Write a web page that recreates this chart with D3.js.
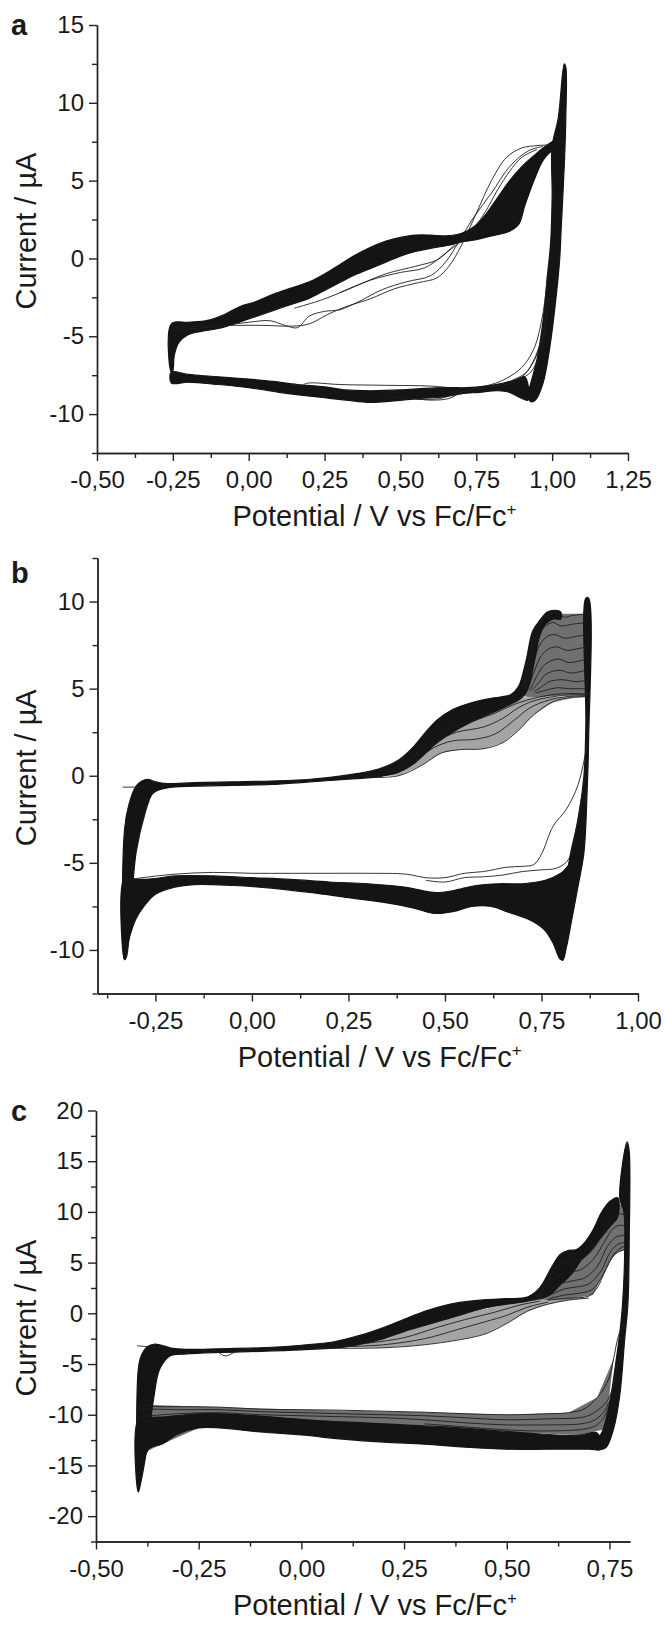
<!DOCTYPE html>
<html>
<head>
<meta charset="utf-8">
<script src="https://cdn.jsdelivr.net/npm/d3@7"></script>
<style>
  body { margin: 0; background: #fff; }
  text { font-family: "Liberation Sans", Arial, Helvetica, sans-serif; fill: #1a1a1a; }
</style>
</head>
<body>
<svg id="fig" width="665" height="1625"></svg>
<script>
// ---------- panel a ----------
const aXTicks = [-0.5, -0.25, 0, 0.25, 0.5, 0.75, 1.0, 1.25];
const aYTicks = [-10, -5, 0, 5, 10, 15];
const aBandAnodic = [[-0.255,-4.2],[-0.2,-4.1],[-0.14,-4.0],[-0.08,-3.6],[-0.03,-3.1],[0.02,-2.8],[0.08,-2.3],[0.14,-1.9],[0.2,-1.5],[0.25,-1.0],[0.3,-0.4],[0.35,0.2],[0.4,0.7],[0.45,1.1],[0.5,1.35],[0.55,1.5],[0.6,1.5],[0.65,1.45],[0.7,1.6],[0.74,2.0],[0.78,2.8],[0.82,3.9],[0.86,5.0],[0.9,5.9],[0.94,6.6],[0.97,7.1],[1.0,7.5],[1.02,7.7],
  [1.02,7.0],[1.0,6.9],[0.97,6.3],[0.94,5.0],[0.91,3.4],[0.89,2.2],[0.86,1.75],[0.8,1.45],[0.75,1.2],[0.7,1.05],[0.66,0.85],[0.6,0.65],[0.55,0.45],[0.5,0.15],[0.45,-0.25],[0.4,-0.65],[0.35,-1.05],[0.3,-1.55],[0.25,-2.05],[0.2,-2.55],[0.14,-2.95],[0.08,-3.35],[0.02,-3.75],[-0.04,-4.15],[-0.1,-4.5],[-0.16,-4.7],[-0.2,-4.9],[-0.23,-5.4],[-0.245,-6.2],[-0.25,-7.2],[-0.255,-7.3]];
const aBandCathodic = [[-0.255,-7.3],[-0.2,-7.45],[-0.1,-7.6],[0.0,-7.75],[0.08,-7.9],[0.16,-8.1],[0.25,-8.25],[0.32,-8.45],[0.4,-8.5],[0.5,-8.45],[0.58,-8.35],[0.65,-8.3],[0.72,-8.3],[0.78,-8.2],[0.84,-8.0],[0.88,-7.8],[0.91,-7.6],
  [0.92,-9.1],[0.89,-8.9],[0.86,-8.6],[0.82,-8.5],[0.76,-8.6],[0.7,-8.7],[0.64,-8.9],[0.56,-9.0],[0.48,-9.15],[0.4,-9.25],[0.32,-9.1],[0.25,-8.95],[0.18,-8.8],[0.1,-8.6],[0.0,-8.3],[-0.1,-8.1],[-0.2,-7.95],[-0.255,-8.0]];
const aBandReturn = [[1.0,7.2],[1.02,9.0],[1.04,12.5],[1.045,12.3],[1.045,9],[1.04,6],[1.03,2],[1.025,0],[1.01,-3],[0.99,-6],[0.97,-8],[0.945,-9.1],[0.93,-9.2],
  [0.92,-8.8],[0.93,-8],[0.95,-6.5],[0.97,-4],[0.985,-1],[0.995,1],[1.0,4]];
const aCycle1 = [[-0.25,-4.4],[-0.15,-4.35],[-0.05,-4.3],[0.05,-4.3],[0.14,-4.35],[0.2,-4.2],[0.26,-3.6],[0.32,-3.1],[0.4,-2.6],[0.48,-1.95],[0.56,-1.55],[0.62,-1.25],[0.66,-0.5],[0.7,0.8],[0.75,2.9],[0.8,5.0],[0.85,6.5],[0.9,7.1],[0.95,7.25],[1.0,7.3]];
const aCycle2 = [[-0.25,-4.6],[-0.12,-4.4],[0.0,-4.1],[0.07,-4.0],[0.12,-4.3],[0.16,-4.45],[0.2,-3.7],[0.25,-3.4],[0.3,-3.3],[0.36,-2.8],[0.44,-2.0],[0.52,-1.5],[0.6,-1.1],[0.65,-0.2],[0.69,1.0],[0.74,2.6],[0.8,4.2],[0.86,5.9],[0.92,6.9],[0.97,7.2]];
const aCycle3 = [[0.15,-3.2],[0.25,-2.6],[0.35,-1.8],[0.45,-1.0],[0.55,-0.5],[0.62,-0.1],[0.66,0.5],[0.7,1.1]];
const aCycle4 = [[0.3,-2.2],[0.4,-1.4],[0.5,-0.9],[0.58,-0.6],[0.64,0.2],[0.68,0.9]];
const aCycle5 = [[0.7,1.2],[0.74,1.9],[0.78,3.0],[0.82,4.4],[0.86,5.6],[0.9,6.5],[0.95,7.0]];
const aBack1 = [[0.985,-1.0],[0.97,-3.5],[0.94,-5.8],[0.9,-7.0],[0.85,-7.7],[0.8,-8.1],[0.74,-8.35],[0.7,-8.6],[0.66,-9.0],[0.6,-9.1],[0.54,-9.0],[0.45,-8.9]];
const aBack2 = [[0.99,-2.5],[0.96,-5.5],[0.92,-7.2],[0.88,-7.9],[0.82,-8.2],[0.75,-8.4],[0.68,-8.7],[0.63,-9.0],[0.55,-9.05]];
const aBack3 = [[0.18,-8.1],[0.2,-8.0],[0.3,-8.1],[0.45,-8.15],[0.6,-8.2],[0.66,-8.3]];
const aBack4 = [[0.985,-3.0],[0.965,-5.2],[0.94,-6.6],[0.91,-7.4],[0.87,-7.8]];
const aBack5 = [[0.98,-4.2],[0.955,-6.3],[0.93,-7.3],[0.9,-7.7]];

// ---------- panel b ----------
const bXTicks = [-0.25, 0, 0.25, 0.5, 0.75, 1.0];
const bYTicks = [-10, -5, 0, 5, 10];
const bBandAnodic = [[-0.33,-3.1],[-0.318,-1.6],[-0.3,-0.6],[-0.285,-0.3],[-0.27,-0.2],[-0.25,-0.35],[-0.22,-0.45],[-0.15,-0.4],[-0.05,-0.35],[0.05,-0.3],[0.15,-0.2],[0.25,0.05],[0.33,0.4],[0.38,0.9],[0.42,1.7],[0.45,2.5],[0.48,3.2],[0.52,3.8],[0.57,4.2],[0.62,4.45],[0.67,4.65],[0.69,5.1],[0.71,6.6],[0.727,8.3],[0.745,8.9],[0.765,9.4],[0.785,9.5],[0.8,9.4],
  [0.8,9.0],[0.78,9.0],[0.76,8.7],[0.745,8.0],[0.73,6.4],[0.715,5.0],[0.70,4.5],[0.67,4.1],[0.62,3.6],[0.57,3.1],[0.52,2.5],[0.48,1.9],[0.45,1.3],[0.42,0.7],[0.38,0.2],[0.33,-0.05],[0.25,-0.2],[0.15,-0.35],[0.05,-0.5],[-0.05,-0.55],[-0.15,-0.6],[-0.22,-0.7],[-0.25,-0.9],[-0.26,-1.1],[-0.275,-2.0],[-0.3,-4.4],[-0.325,-10.4],[-0.33,-10.55]];
const bBandCathodic = [[-0.33,-5.9],[-0.3,-5.95],[-0.25,-5.9],[-0.2,-5.75],[-0.1,-5.75],[0.0,-5.85],[0.1,-5.95],[0.2,-6.1],[0.3,-6.2],[0.4,-6.4],[0.47,-6.7],[0.52,-6.6],[0.58,-6.3],[0.64,-6.2],[0.7,-6.2],[0.76,-6.0],[0.8,-5.6],[0.83,-5.0],
  [0.8,-10.55],[0.78,-9.6],[0.76,-8.9],[0.73,-8.4],[0.7,-8.1],[0.66,-7.8],[0.62,-7.5],[0.57,-7.5],[0.52,-7.8],[0.47,-7.9],[0.42,-7.6],[0.35,-7.3],[0.25,-7.0],[0.15,-6.7],[0.05,-6.45],[-0.05,-6.3],[-0.15,-6.25],[-0.2,-6.4],[-0.25,-6.8],[-0.28,-7.5],[-0.3,-8.2],[-0.32,-9.5],[-0.33,-10.55]];
const bBandReturn = [[0.865,10.2],[0.872,10.2],[0.872,2],[0.868,-1],[0.86,-4.4],[0.845,-6.3],[0.828,-8.3],[0.815,-9.8],[0.805,-10.6],[0.795,-10.3],[0.8,-8.5],[0.81,-6.5],[0.825,-4.5],[0.845,-2.5],[0.86,0],[0.865,3]];
const bShadeFan = [[0.69,4.6],[0.72,6.5],[0.74,8.6],[0.77,9.4],[0.8,9.3],[0.87,9.3],[0.87,4.6],[0.8,4.6],[0.75,4.5],[0.72,4.5]];
const bShadeRise = [[0.33,0.0],[0.38,0.2],[0.42,0.7],[0.45,1.3],[0.48,1.9],[0.52,2.5],[0.57,3.1],[0.62,3.6],[0.67,4.1],[0.70,4.5],[0.75,4.5],[0.87,4.6],[0.87,4.5],[0.83,4.45],[0.78,4.2],[0.73,3.5],[0.69,2.6],[0.65,1.9],[0.6,1.55],[0.54,1.5],[0.49,1.3],[0.44,0.6],[0.38,0.0]];
const bFan1 = [[0.7,5.0],[0.72,7.0],[0.735,8.5],[0.75,9.0],[0.77,9.3],[0.79,9.35],[0.81,9.1],[0.83,9.2],[0.87,9.3]];
const bFan2 = [[0.705,5.0],[0.725,6.8],[0.74,8.0],[0.76,8.6],[0.78,8.8],[0.8,8.6],[0.83,8.7],[0.87,8.8]];
const bFan3 = [[0.71,5.0],[0.73,6.5],[0.745,7.5],[0.765,8.0],[0.785,8.1],[0.81,7.9],[0.84,8.0],[0.87,8.1]];
const bFan4 = [[0.715,5.0],[0.735,6.2],[0.75,6.9],[0.77,7.3],[0.79,7.4],[0.815,7.2],[0.845,7.3],[0.87,7.4]];
const bFan5 = [[0.72,4.9],[0.74,5.8],[0.755,6.3],[0.775,6.6],[0.795,6.7],[0.82,6.5],[0.85,6.6],[0.87,6.7]];
const bFan6 = [[0.725,4.9],[0.745,5.4],[0.76,5.8],[0.78,6.0],[0.8,6.05],[0.825,5.9],[0.855,6.0],[0.87,6.1]];
const bFan7 = [[0.73,4.8],[0.75,5.1],[0.77,5.4],[0.79,5.5],[0.81,5.5],[0.84,5.4],[0.87,5.5]];
const bFan8 = [[0.735,4.75],[0.76,4.9],[0.79,5.05],[0.82,5.0],[0.87,5.0]];
const bRise1 = [[0.3,-0.1],[0.38,0.0],[0.44,0.6],[0.49,1.3],[0.54,1.5],[0.6,1.55],[0.65,1.9],[0.69,2.6],[0.73,3.5],[0.78,4.25],[0.83,4.5],[0.87,4.55]];
const bRise2 = [[0.35,0.1],[0.42,0.8],[0.47,1.6],[0.52,2.0],[0.58,2.1],[0.63,2.4],[0.68,3.2],[0.72,3.9],[0.77,4.35],[0.82,4.55],[0.87,4.6]];
const bRise3 = [[0.36,0.3],[0.43,1.2],[0.48,2.0],[0.53,2.5],[0.6,2.8],[0.65,3.3],[0.69,3.9],[0.73,4.3],[0.8,4.6],[0.87,4.65]];
const bRise4 = [[0.4,0.8],[0.46,1.9],[0.52,2.8],[0.58,3.2],[0.63,3.6],[0.68,4.1],[0.74,4.5],[0.8,4.7],[0.87,4.7]];
const bBack1 = [[0.87,2.0],[0.845,-0.5],[0.815,-1.9],[0.78,-2.9],[0.75,-4.5],[0.73,-5.1],[0.7,-5.2],[0.66,-5.25],[0.6,-5.5],[0.55,-5.6],[0.5,-5.85],[0.45,-5.85],[0.4,-5.65],[0.3,-5.6],[0.2,-5.6],[0.1,-5.6],[0.0,-5.6],[-0.1,-5.55],[-0.2,-5.65],[-0.3,-5.9],[-0.33,-6.0]];
const bBack2 = [[0.855,-1],[0.84,-3.0],[0.82,-4.8],[0.79,-5.3],[0.75,-5.4],[0.7,-5.5],[0.65,-5.7],[0.6,-5.8],[0.55,-5.85],[0.5,-6.1],[0.45,-6.0]];
const bStart = [[-0.335,-0.65],[-0.3,-0.65],[-0.27,-0.6]];

// ---------- panel c ----------
const cXTicks = [-0.5, -0.25, 0, 0.25, 0.5, 0.75];
const cYTicks = [-20, -15, -10, -5, 0, 5, 10, 15, 20];
const cBandAnodic = [[-0.397,-5.5],[-0.39,-4.2],[-0.375,-3.3],[-0.36,-3.05],[-0.34,-3.15],[-0.32,-3.4],[-0.28,-3.55],[-0.2,-3.5],[-0.1,-3.4],[0.0,-3.15],[0.08,-2.8],[0.14,-2.2],[0.2,-1.4],[0.25,-0.6],[0.3,0.2],[0.35,0.8],[0.4,1.15],[0.45,1.35],[0.5,1.45],[0.55,1.6],[0.58,2.5],[0.61,4.6],[0.63,5.8],[0.65,6.2],[0.67,6.3],[0.69,7.0],[0.71,8.2],[0.73,9.9],[0.75,11.0],[0.77,11.4],
  [0.77,9.5],[0.75,8.5],[0.72,7.0],[0.70,6.0],[0.68,5.2],[0.66,4.0],[0.63,2.8],[0.6,1.7],[0.55,1.2],[0.5,0.9],[0.45,0.55],[0.4,0.0],[0.35,-0.6],[0.3,-1.2],[0.25,-1.8],[0.2,-2.5],[0.15,-3.0],[0.1,-3.35],[0.0,-3.6],[-0.1,-3.75],[-0.2,-3.85],[-0.28,-4.0],[-0.32,-4.2],[-0.345,-5.5],[-0.36,-8.5],[-0.375,-13.0],[-0.39,-16.5],[-0.397,-17.6]];
const cBandCathodic = [[-0.397,-10.5],[-0.37,-10.3],[-0.33,-10.2],[-0.28,-10.0],[-0.22,-9.9],[-0.15,-10.0],[-0.05,-10.3],[0.05,-10.6],[0.15,-10.8],[0.25,-11.0],[0.35,-11.2],[0.45,-11.5],[0.55,-11.8],[0.62,-12.0],[0.68,-12.0],[0.72,-11.8],
  [0.73,-13.4],[0.7,-13.4],[0.6,-13.4],[0.5,-13.4],[0.4,-13.2],[0.3,-12.9],[0.2,-12.7],[0.1,-12.4],[0.0,-12.0],[-0.1,-11.7],[-0.2,-11.3],[-0.25,-11.3],[-0.3,-11.9],[-0.34,-12.9],[-0.37,-13.3],[-0.385,-14.7],[-0.397,-17.6]];
const cBandReturn = [[0.775,11.4],[0.793,16.9],[0.798,16.0],[0.798,7],[0.795,1],[0.787,-2.6],[0.775,-8.1],[0.76,-11.4],[0.742,-13.2],[0.725,-13.4],[0.72,-12.8],[0.735,-11.4],[0.752,-8.5],[0.765,-5],[0.775,-2],[0.782,1],[0.787,6],[0.785,10]];
const cShadeFan = [[0.57,1.5],[0.6,3.5],[0.62,5.2],[0.65,6.0],[0.68,6.3],[0.7,7.2],[0.73,9.5],[0.76,11.0],[0.79,10.5],[0.79,6.3],[0.77,6.0],[0.75,5.2],[0.73,3.5],[0.71,1.8],[0.65,1.4],[0.6,1.3]];
const cShadeRise = [[0.1,-3.35],[0.2,-2.5],[0.3,-1.2],[0.4,0.0],[0.5,0.9],[0.6,1.5],[0.7,1.5],[0.65,1.3],[0.6,0.9],[0.55,0.2],[0.5,-1.0],[0.45,-2.0],[0.4,-2.5],[0.3,-3.1],[0.2,-3.4]];
const cShadeBack = [[0.76,-4.5],[0.72,-8.3],[0.65,-9.8],[0.5,-10.0],[0.3,-9.75],[0.0,-9.5],[-0.2,-9.25],[-0.397,-9.0],[-0.397,-14.0],[-0.34,-12.9],[-0.25,-11.3],[-0.22,-9.9],[0.05,-10.6],[0.35,-11.2],[0.55,-11.8],[0.68,-12.0],[0.74,-11.4]];
const cFan1 = [[0.57,1.5],[0.6,3.0],[0.62,4.6],[0.65,5.0],[0.68,5.3],[0.71,6.3],[0.74,8.3],[0.76,9.5],[0.78,9.8],[0.79,9.6]];
const cFan2 = [[0.57,1.4],[0.6,2.5],[0.62,3.6],[0.65,4.0],[0.68,4.3],[0.71,5.3],[0.74,7.2],[0.76,8.4],[0.78,8.7],[0.79,8.5]];
const cFan3 = [[0.57,1.35],[0.6,2.1],[0.63,2.9],[0.66,3.2],[0.69,3.5],[0.72,4.6],[0.745,6.6],[0.765,7.5],[0.785,7.7]];
const cFan4 = [[0.58,1.35],[0.61,1.9],[0.64,2.4],[0.67,2.6],[0.7,2.9],[0.73,4.2],[0.75,5.9],[0.77,6.8],[0.79,7.0]];
const cFan5 = [[0.6,1.4],[0.64,1.8],[0.68,2.0],[0.71,2.4],[0.73,3.5],[0.755,5.5],[0.775,6.4],[0.79,6.6]];
const cFan6 = [[0.6,1.3],[0.65,1.5],[0.7,1.7],[0.72,2.5],[0.74,4.2],[0.765,5.9],[0.79,6.3]];
const cRise1 = [[0.0,-3.4],[0.1,-3.45],[0.2,-3.4],[0.3,-3.1],[0.4,-2.5],[0.45,-2.0],[0.5,-1.0],[0.55,0.2],[0.6,0.9],[0.65,1.3],[0.7,1.5]];
const cRise2 = [[0.1,-3.3],[0.2,-3.1],[0.3,-2.5],[0.38,-1.6],[0.45,-0.8],[0.5,-0.2],[0.55,0.6],[0.6,1.1]];
const cRise3 = [[0.15,-3.0],[0.25,-2.4],[0.33,-1.4],[0.4,-0.6],[0.47,0.1],[0.53,0.8],[0.58,1.2]];
const cBack1 = [[0.785,-1],[0.772,-2.2],[0.76,-4.5],[0.75,-6.25],[0.735,-7.5],[0.72,-8.3],[0.69,-9.4],[0.65,-9.8],[0.6,-9.9],[0.5,-10.0],[0.4,-9.9],[0.3,-9.75],[0.2,-9.65],[0.1,-9.55],[0.0,-9.5],[-0.1,-9.45],[-0.2,-9.25],[-0.3,-9.2],[-0.35,-9.2],[-0.397,-9.0]];
const cBack2 = [[0.775,-4],[0.76,-7],[0.745,-8.6],[0.72,-9.6],[0.69,-10.2],[0.6,-10.4],[0.5,-10.5],[0.4,-10.3],[0.3,-10.1],[0.2,-10.0],[0.1,-9.9],[0.0,-9.8],[-0.1,-9.7],[-0.2,-9.5],[-0.3,-9.5],[-0.397,-9.4]];
const cBack3 = [[0.765,-6],[0.75,-8.6],[0.735,-9.8],[0.71,-10.6],[0.68,-10.9],[0.6,-11.0],[0.5,-11.0],[0.4,-10.8],[0.3,-10.5],[0.2,-10.3],[0.1,-10.2],[0.0,-10.1],[-0.1,-10.0],[-0.2,-9.8],[-0.3,-9.9],[-0.397,-10.2]];
const cBack4 = [[0.755,-8],[0.74,-10],[0.72,-11.0],[0.69,-11.4],[0.6,-11.6],[0.5,-11.5],[0.4,-11.2],[0.3,-10.9]];
const cStart = [[-0.4,-3.2],[-0.37,-3.3],[-0.34,-3.4]];
const cDip = [[-0.25,-3.6],[-0.21,-3.7],[-0.185,-4.2],[-0.16,-3.8],[-0.12,-3.5]];

const panels = [
  { letter: "a", xDomain: [-0.5, 1.25], yDomain: [-12.5, 15], xRange: [97, 628], yRange: [453, 25],
    xTicks: aXTicks, yTicks: aYTicks, fans: [], lights: [], bands: [aBandAnodic, aBandCathodic, aBandReturn],
    lines: [aCycle1, aCycle2, aCycle3, aCycle4, aCycle5, aBack1, aBack2, aBack3, aBack4, aBack5] },
  { letter: "b", xDomain: [-0.40, 1.0], yDomain: [-12.5, 12.5], xRange: [97.5, 638], yRange: [993.5, 558],
    xTicks: bXTicks, yTicks: bYTicks, fans: [bShadeFan], lights: [bShadeRise], bands: [bBandAnodic, bBandCathodic, bBandReturn],
    lines: [bFan1, bFan2, bFan3, bFan4, bFan5, bFan6, bFan7, bFan8, bRise1, bRise2, bRise3, bRise4, bBack1, bBack2, bStart] },
  { letter: "c", xDomain: [-0.5, 0.8], yDomain: [-22.5, 20], xRange: [96, 630], yRange: [1541.5, 1110.5],
    xTicks: cXTicks, yTicks: cYTicks, fans: [cShadeFan, cShadeBack], lights: [cShadeRise], bands: [cBandAnodic, cBandCathodic, cBandReturn],
    lines: [cFan1, cFan2, cFan3, cFan4, cFan5, cFan6, cRise1, cRise2, cRise3, cBack1, cBack2, cBack3, cBack4, cStart, cDip] }
];

const svg = d3.select("#fig");
const fmtX = d => d.toFixed(2).replace(".", ",");

function minorsOf(major, domain) {
  const step = major[1] - major[0];
  const out = [major[0] - step / 2];
  major.forEach(v => out.push(v + step / 2));
  return out.filter(v => v >= domain[0] - 1e-9 && v <= domain[1] + 1e-9);
}

panels.forEach(p => {
  const x = d3.scaleLinear().domain(p.xDomain).range(p.xRange);
  const y = d3.scaleLinear().domain(p.yDomain).range(p.yRange);
  const g = svg.append("g");
  const smooth = d3.line().x(d => x(d[0])).y(d => y(d[1])).curve(d3.curveCatmullRomClosed.alpha(0.5));
  const poly = d3.line().x(d => x(d[0])).y(d => y(d[1])).curve(d3.curveLinearClosed);
  const open = d3.line().x(d => x(d[0])).y(d => y(d[1])).curve(d3.curveCatmullRom.alpha(0.5));

  g.selectAll("path.light").data(p.lights).join("path")
    .attr("class", "light").attr("d", poly).attr("fill", "#a4a4a4");
  g.selectAll("path.fan").data(p.fans).join("path")
    .attr("class", "fan").attr("d", poly).attr("fill", "#707070");
  g.selectAll("path.band").data(p.bands).join("path")
    .attr("class", "band").attr("d", smooth)
    .attr("fill", "#141414").attr("stroke", "#141414").attr("stroke-width", 1.2);
  g.selectAll("path.cycle").data(p.lines).join("path")
    .attr("class", "cycle").attr("d", open)
    .attr("fill", "none").attr("stroke", "#1e1e1e").attr("stroke-width", 0.9);

  // axes
  const x0 = p.xRange[0], yb = p.yRange[0];
  g.append("g").attr("transform", `translate(0,${yb})`)
    .call(d3.axisBottom(x).tickValues(p.xTicks).tickSize(8).tickSizeOuter(0).tickPadding(10).tickFormat(fmtX));
  g.append("g").attr("transform", `translate(0,${yb})`)
    .call(d3.axisBottom(x).tickValues(minorsOf(p.xTicks, p.xDomain)).tickSize(5).tickSizeOuter(0).tickFormat(""));
  g.append("g").attr("transform", `translate(${x0},0)`)
    .call(d3.axisLeft(y).tickValues(p.yTicks).tickSize(8).tickSizeOuter(0).tickPadding(5).tickFormat(d => String(d)));
  g.append("g").attr("transform", `translate(${x0},0)`)
    .call(d3.axisLeft(y).tickValues(minorsOf(p.yTicks, p.yDomain)).tickSize(5).tickSizeOuter(0).tickFormat(""));
  g.selectAll(".domain, .tick line").attr("stroke", "#222").attr("stroke-width", 1.4);
  g.selectAll(".tick text").attr("font-size", 24).attr("fill", "#1a1a1a")
    .attr("font-family", '"Liberation Sans", Arial, sans-serif');

  // titles
  const cx = (p.xRange[0] + p.xRange[1]) / 2 + 12;
  const cy = (p.yRange[0] + p.yRange[1]) / 2 - 8;
  const xt = g.append("text").attr("x", cx).attr("y", yb + 73)
    .attr("text-anchor", "middle").attr("font-size", 29);
  xt.append("tspan").text("Potential / V vs Fc/Fc");
  xt.append("tspan").attr("dy", -11).attr("font-size", 17).text("+");
  g.append("text").attr("transform", `translate(28,${cy}) rotate(-90)`)
    .attr("text-anchor", "middle").attr("dominant-baseline", "middle")
    .attr("font-size", 29).text("Current / µA");
  g.append("text").attr("x", 11).attr("y", p.yRange[1] + (p.letter === "b" ? 25 : 10))
    .attr("font-size", 29).attr("font-weight", "bold").text(p.letter);
});
</script>
</body>
</html>
